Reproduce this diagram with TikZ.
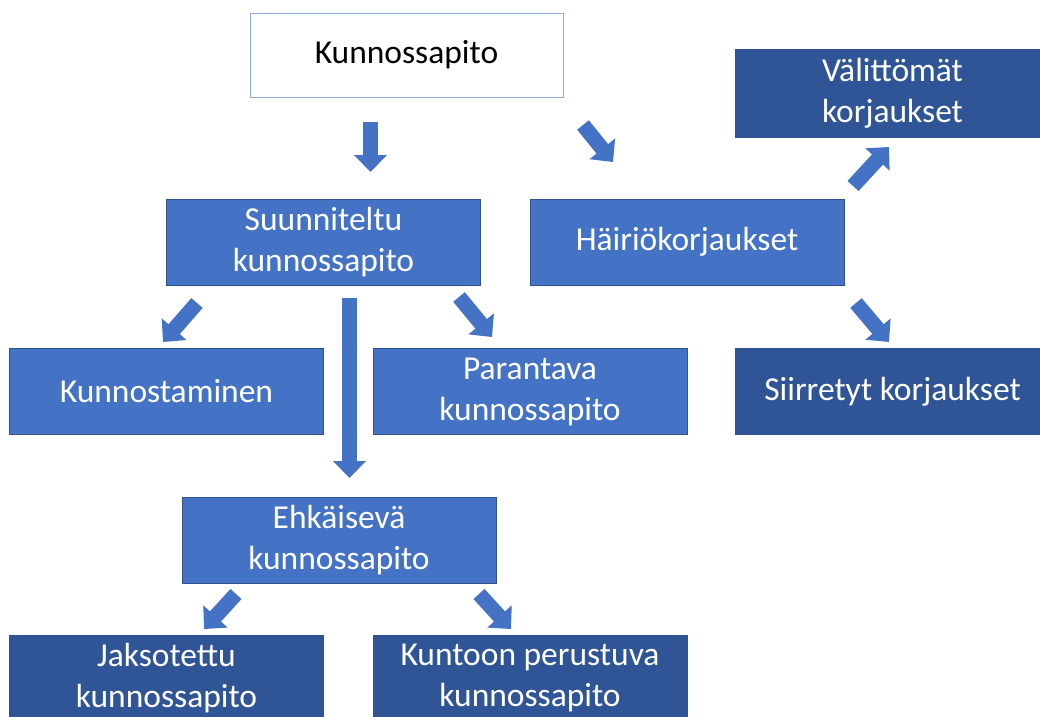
\documentclass[tikz,border=0pt]{standalone}
\usepackage{fontspec}
\setmainfont{Carlito}
\usetikzlibrary{arrows.meta}
\definecolor{midblue}{HTML}{4472C4}
\definecolor{darkblue}{HTML}{2F5597}
\definecolor{edgeblue}{HTML}{2F528F}
\definecolor{lightedge}{HTML}{8FAADC}
\tikzset{
  box/.style={rectangle, minimum width=314pt, minimum height=86pt, align=center, inner sep=0pt,
    font=\fontsize{33.5}{41}\selectfont, text=white, draw=edgeblue, line width=0.8pt},
  midbox/.style={box, fill=midblue},
  darkbox/.style={box, fill=darkblue},
  whitebox/.style={box, fill=white, draw=lightedge, text=black},
  blockarrow/.style={draw=midblue, line width=15pt, -{Triangle[length=17pt,width=32pt]}}
}
\begin{document}
\begin{tikzpicture}[x=1pt,y=-1pt]
\useasboundingbox (0,0) rectangle (1040,716);
\clip (0,0) rectangle (1040,716);
\node[whitebox, minimum height=84pt, minimum width=313pt] (kp) at (406.5,55) {Kunnossapito};
\node[midbox] (su) at (323.5,242) {Suunniteltu\\kunnossapito};
\node[midbox] (ha) at (687,242) {Häiriökorjaukset};
\node[darkbox, minimum height=88pt] (va) at (892.5,93) {Välittömät\\korjaukset};
\node[midbox] (kn) at (166.5,391.5) {Kunnostaminen};
\node[midbox] (pa) at (530,391.5) {Parantava\\kunnossapito};
\node[darkbox] (si) at (892.5,391.5) {Siirretyt korjaukset};
\node[midbox] (eh) at (339,540) {Ehkäisevä\\kunnossapito};
\node[darkbox] (ja) at (166.5,678) {Jaksotettu\\kunnossapito};
\node[darkbox] (ku) at (530,678) {Kuntoon perustuva\\kunnossapito};
% arrow end points
\coordinate (a1s) at (370.5,122); \coordinate (a1e) at (370.5,172);
\coordinate (a2s) at (583,125);   \coordinate (a2e) at (613,162);
\coordinate (a3s) at (853,186);   \coordinate (a3e) at (889,147);
\coordinate (a4s) at (856,303);   \coordinate (a4e) at (889,342);
\coordinate (a5s) at (197,303);   \coordinate (a5e) at (163,342);
\coordinate (a6s) at (349.5,298); \coordinate (a6e) at (349.5,478);
\coordinate (a7s) at (459,297);   \coordinate (a7e) at (492,337);
\coordinate (a8s) at (236,594);   \coordinate (a8e) at (204,629);
\coordinate (a9s) at (479,594);   \coordinate (a9e) at (511,629);
\foreach \i in {1,...,9} {\draw[blockarrow] (a\i s) -- (a\i e);}
\end{tikzpicture}
\end{document}
